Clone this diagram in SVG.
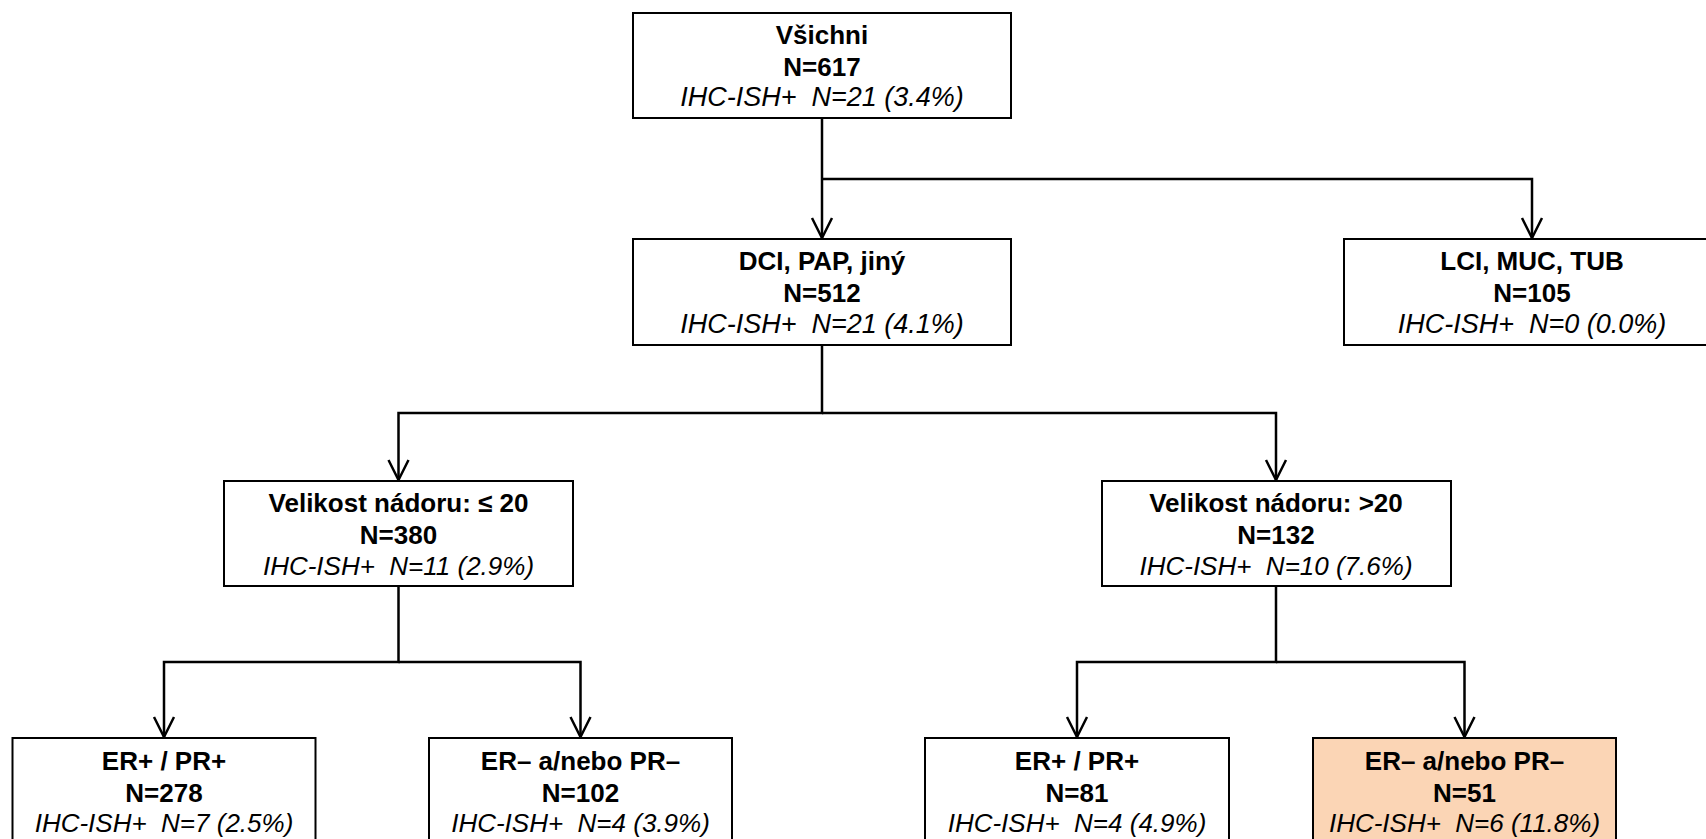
<svg xmlns="http://www.w3.org/2000/svg" width="1706" height="839" viewBox="0 0 1706 839">
<style>
.box{fill:#ffffff;stroke:#000000;stroke-width:2}
.hl{fill:#FBD5B5}
.b{font-family:"Liberation Sans",Arial,sans-serif;font-weight:bold;font-size:26px;fill:#000;text-anchor:middle}
.i{font-family:"Liberation Sans",Arial,sans-serif;font-style:italic;font-size:26px;fill:#000;text-anchor:middle}
.c{fill:none;stroke:#000;stroke-width:2.5}
</style>
<defs>
<marker id="arr" markerUnits="userSpaceOnUse" viewBox="-22 -12 24 24" markerWidth="24" markerHeight="24" refX="0" refY="0" orient="auto" overflow="visible">
<path d="M-20,-10 L0,0 L-20,10" fill="none" stroke="#000" stroke-width="2.5"/>
</marker>
</defs>
<rect width="1706" height="839" fill="#ffffff"/>
<g id="connectors">
<path class="c" d="M822,118 V238" marker-end="url(#arr)"/>
<path class="c" d="M822,179 H1532 V238" marker-end="url(#arr)"/>
<path class="c" d="M822,345 V413 H398.5 V480" marker-end="url(#arr)"/>
<path class="c" d="M822,413 H1276 V480" marker-end="url(#arr)"/>
<path class="c" d="M398.5,586 V662 H164 V737" marker-end="url(#arr)"/>
<path class="c" d="M398.5,662 H580.5 V737" marker-end="url(#arr)"/>
<path class="c" d="M1276,586 V662 H1077 V737" marker-end="url(#arr)"/>
<path class="c" d="M1276,662 H1464.5 V737" marker-end="url(#arr)"/>
</g>
<g id="n-vsichni">
<rect class="box" x="633" y="13" width="378" height="105"/>
<text class="b" x="822" y="44">Všichni</text>
<text class="b" x="822" y="76">N=617</text>
<text class="i" x="822" y="106" style="font-size:27px">IHC-ISH+&#160; N=21 (3.4%)</text>
</g>
<g id="n-dci">
<rect class="box" x="633" y="239" width="378" height="106"/>
<text class="b" x="822" y="270">DCI, PAP, jiný</text>
<text class="b" x="822" y="302">N=512</text>
<text class="i" x="822" y="333" style="font-size:27px">IHC-ISH+&#160; N=21 (4.1%)</text>
</g>
<g id="n-lci">
<rect class="box" x="1344" y="239" width="378" height="106"/>
<text class="b" x="1532" y="270">LCI, MUC, TUB</text>
<text class="b" x="1532" y="302">N=105</text>
<text class="i" x="1532" y="333" style="font-size:27px">IHC-ISH+&#160; N=0 (0.0%)</text>
</g>
<g id="n-le20">
<rect class="box" x="224" y="481" width="349" height="105"/>
<text class="b" x="398.5" y="512">Velikost nádoru: ≤ 20</text>
<text class="b" x="398.5" y="543.5">N=380</text>
<text class="i" x="398.5" y="575">IHC-ISH+&#160; N=11 (2.9%)</text>
</g>
<g id="n-gt20">
<rect class="box" x="1102" y="481" width="349" height="105"/>
<text class="b" x="1276" y="512">Velikost nádoru: &gt;20</text>
<text class="b" x="1276" y="543.5">N=132</text>
<text class="i" x="1276" y="575">IHC-ISH+&#160; N=10 (7.6%)</text>
</g>
<g id="n-le20-pos">
<rect class="box" x="12.5" y="738" width="303" height="110"/>
<text class="b" x="164" y="770">ER+ / PR+</text>
<text class="b" x="164" y="801.5">N=278</text>
<text class="i" x="164" y="832">IHC-ISH+&#160; N=7 (2.5%)</text>
</g>
<g id="n-le20-neg">
<rect class="box" x="429" y="738" width="303" height="110"/>
<text class="b" x="580.5" y="770">ER– a/nebo PR–</text>
<text class="b" x="580.5" y="801.5">N=102</text>
<text class="i" x="580.5" y="832">IHC-ISH+&#160; N=4 (3.9%)</text>
</g>
<g id="n-gt20-pos">
<rect class="box" x="925" y="738" width="304" height="110"/>
<text class="b" x="1077" y="770">ER+ / PR+</text>
<text class="b" x="1077" y="801.5">N=81</text>
<text class="i" x="1077" y="832">IHC-ISH+&#160; N=4 (4.9%)</text>
</g>
<g id="n-gt20-neg">
<rect class="box hl" x="1313" y="738" width="303" height="110"/>
<text class="b" x="1464.5" y="770">ER– a/nebo PR–</text>
<text class="b" x="1464.5" y="801.5">N=51</text>
<text class="i" x="1464.5" y="832">IHC-ISH+&#160; N=6 (11.8%)</text>
</g>
</svg>
